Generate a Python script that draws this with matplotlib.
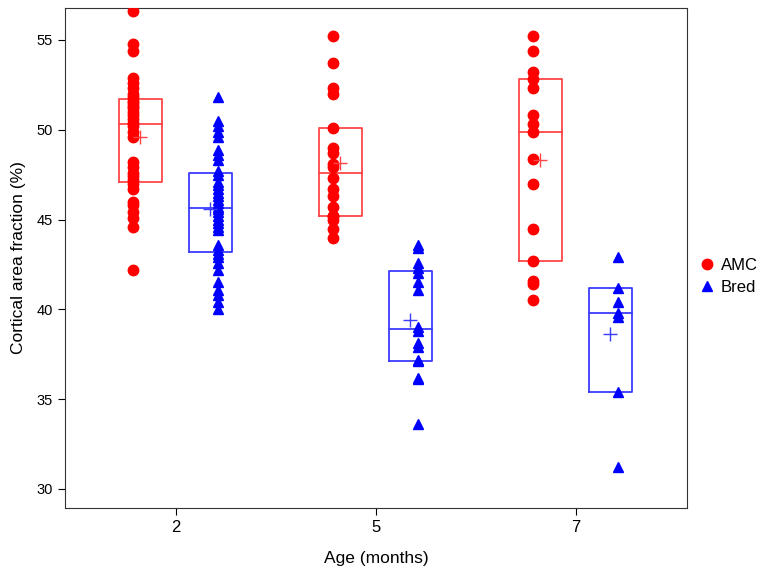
import numpy as np
import matplotlib
matplotlib.use("Agg")
import matplotlib.pyplot as plt

plt.rcParams["font.family"] = ["Liberation Sans", "DejaVu Sans"]

# Age groups (months)
ages = ["2", "5", "7"]

# Cortical area fraction (%)
amc_2 = [56.6, 54.8, 54.4, 52.9, 52.6, 52.3, 52.0, 51.8, 51.6, 51.5, 51.3,
         51.2, 51.0, 50.8, 50.6, 50.4, 50.2, 49.9, 49.6, 48.2, 47.9, 47.6,
         47.4, 47.2, 47.0, 46.7, 46.0, 45.8, 45.4, 45.1, 44.6, 42.2]
amc_5 = [55.2, 53.7, 52.3, 52.0, 50.1, 49.0, 48.7, 48.1, 47.9, 47.3, 46.7,
         46.3, 45.7, 45.2, 45.2, 45.0, 44.5, 44.0]
amc_7 = [55.2, 54.4, 53.2, 52.8, 52.3, 50.8, 50.3, 49.9, 48.4, 47.0, 44.5,
         42.7, 41.6, 41.4, 40.5]

bred_2 = [51.8, 50.5, 50.2, 49.9, 49.6, 48.9, 48.6, 48.3, 47.7, 47.5, 47.1,
          46.9, 46.7, 46.5, 46.3, 46.1, 45.9, 45.7, 45.6, 45.4, 45.2, 45.0,
          44.8, 44.6, 44.4, 43.6, 43.3, 43.1, 42.9, 42.6, 42.2, 41.5, 41.1,
          40.8, 40.4, 40.0]
bred_5 = [43.6, 43.4, 42.6, 42.3, 42.0, 41.5, 41.1, 39.0, 38.8, 38.1, 37.9,
          37.2, 37.1, 36.2, 36.1, 33.6]
bred_7 = [42.9, 41.2, 40.4, 39.8, 39.6, 35.4, 31.2]

amc = [amc_2, amc_5, amc_7]
bred = [bred_2, bred_5, bred_7]


def draw_group(ax, groups, x_pts, x_box, color, box_color, marker):
    width = 0.213
    for i, vals in enumerate(groups):
        vals = np.array(vals)
        q1, med, q3 = np.percentile(vals, [25, 50, 75], method="averaged_inverted_cdf")
        xc = i + x_box
        ax.plot([xc - width / 2, xc + width / 2, xc + width / 2, xc - width / 2, xc - width / 2],
                [q1, q1, q3, q3, q1], color=box_color, lw=1.3, zorder=2)
        ax.plot([xc - width / 2, xc + width / 2], [med, med], color=box_color, lw=1.3, zorder=2)
        ax.plot(i + x_pts + np.zeros(len(vals)), vals, linestyle="none", marker=marker,
                color=color, markersize=7.5, zorder=3)
        ax.plot([xc], [vals.mean()], marker="+", color=box_color, markersize=10,
                markeredgewidth=1.0, zorder=4)


fig = plt.figure(figsize=(7.7, 5.78), dpi=100)
ax = fig.add_axes([65 / 770, 1 - 508 / 578, (687 - 65) / 770, 500 / 578])

draw_group(ax, amc, -0.215, -0.178, "#ff0000", "#ff4646", "o")
draw_group(ax, bred, 0.21, 0.172, "#0000ff", "#3c3cff", "^")

ax.set_xlim(-0.555, 2.555)
ax.set_ylim(28.94, 56.78)
ax.set_xticks(range(len(ages)))
ax.set_xticklabels(ages, fontsize=12)
ax.set_yticks([30, 35, 40, 45, 50, 55])
ax.tick_params(axis="y", labelsize=10.5, length=5)
ax.tick_params(axis="x", length=5)
ax.set_xlabel("Age (months)", fontsize=12.5, labelpad=12)
ax.set_ylabel("Cortical area fraction (%)", fontsize=12.5, labelpad=8)
for s in ax.spines.values():
    s.set_color("#333333")

handles = [
    plt.Line2D([], [], linestyle="none", marker="o", color="#ff0000", markersize=7.5),
    plt.Line2D([], [], linestyle="none", marker="^", color="#0000ff", markersize=7.5),
]
fig.legend(handles, ["AMC", "Bred"], loc="center left", bbox_to_anchor=(0.912, 0.522),
           frameon=False, fontsize=12, handlelength=0.6, handletextpad=0.5,
           labelspacing=0.45, borderaxespad=0, borderpad=0)

fig.savefig("out.png", dpi=100)
